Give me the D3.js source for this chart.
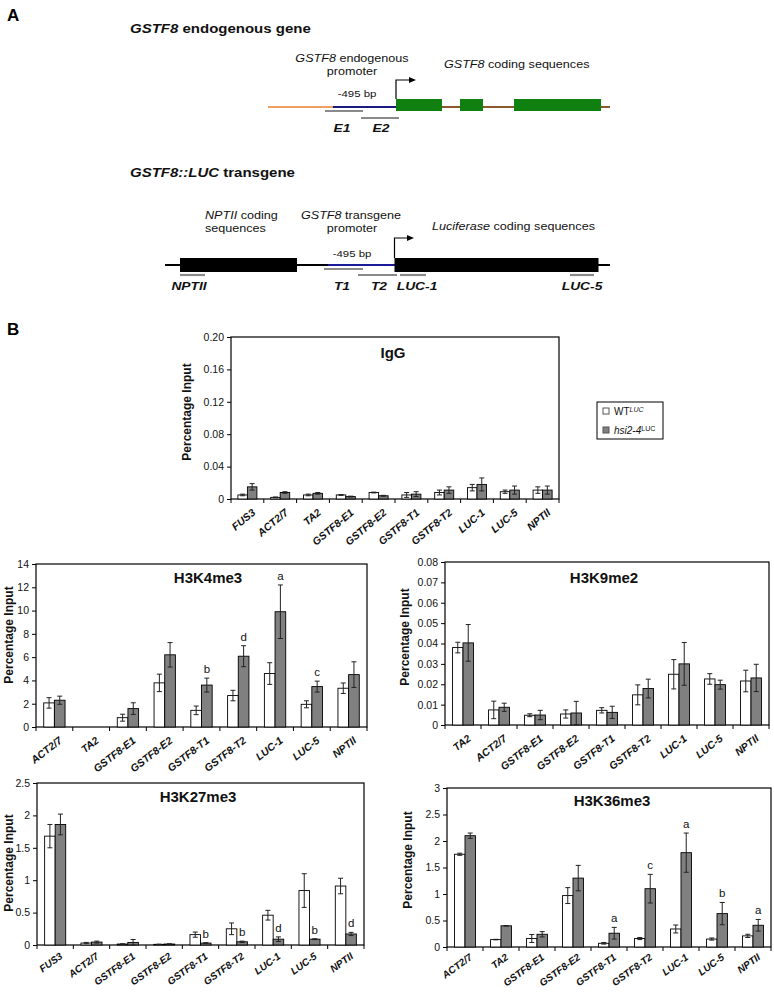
<!DOCTYPE html>
<html><head><meta charset="utf-8">
<script src="https://cdn.jsdelivr.net/npm/d3@7"></script>
<style>
body{margin:0;background:#fff}
svg{display:block}
text{font-family:"Liberation Sans",Arial,Helvetica,sans-serif}
</style>
</head><body>
<svg id="fig" width="774" height="992"></svg>
<script>
// ---------------- DATA ----------------
const igCats = ["FUS3","ACT2/7","TA2","GSTF8-E1","GSTF8-E2","GSTF8-T1","GSTF8-T2","LUC-1","LUC-5","NPTII"];
const igWT     = [0.005,0.002,0.005,0.005,0.008,0.005,0.008,0.014,0.009,0.011];
const igWTErr  = [0.001,0.0005,0.001,0.0005,0.0005,0.003,0.003,0.004,0.002,0.004];
const igHsi    = [0.015,0.008,0.007,0.003,0.004,0.006,0.011,0.018,0.011,0.011];
const igHsiErr = [0.004,0.001,0.001,0.0005,0.0005,0.003,0.004,0.008,0.005,0.005];
const igLetters = ["","","","","","","","","",""];
const igTicks = [0,0.04,0.08,0.12,0.16,0.20];

const k4Cats = ["ACT2/7","TA2","GSTF8-E1","GSTF8-E2","GSTF8-T1","GSTF8-T2","LUC-1","LUC-5","NPTII"];
const k4WT     = [2.07,null,0.8,3.79,1.43,2.7,4.59,1.95,3.33];
const k4WTErr  = [0.45,null,0.3,0.75,0.37,0.45,0.93,0.3,0.45];
const k4Hsi    = [2.3,null,1.58,6.2,3.6,6.08,9.9,3.47,4.5];
const k4HsiErr = [0.35,null,0.5,1.05,0.6,0.9,2.3,0.47,1.1];
const k4Letters = ["","","","","b","d","a","c",""];
const k4Ticks = [0,2,4,6,8,10,12,14];

const k9Cats = ["TA2","ACT2/7","GSTF8-E1","GSTF8-E2","GSTF8-T1","GSTF8-T2","LUC-1","LUC-5","NPTII"];
const k9WT     = [0.038,0.0074,0.0048,0.0054,0.0072,0.0148,0.0249,0.0226,0.0216];
const k9WTErr  = [0.0026,0.0043,0.0007,0.002,0.0013,0.0049,0.0072,0.0026,0.0053];
const k9Hsi    = [0.0403,0.0087,0.0049,0.0059,0.0062,0.0179,0.030,0.0198,0.0231];
const k9HsiErr = [0.009,0.002,0.0023,0.0057,0.003,0.0046,0.0105,0.0022,0.0067];
const k9Letters = ["","","","","","","","",""];
const k9Ticks = [0,0.01,0.02,0.03,0.04,0.05,0.06,0.07,0.08];

const k27Cats = ["FUS3","ACT2/7","GSTF8-E1","GSTF8-E2","GSTF8-T1","GSTF8-T2","LUC-1","LUC-5","NPTII"];
const k27WT     = [1.68,0.03,0.015,0.01,0.16,0.25,0.46,0.84,0.91];
const k27WTErr  = [0.18,0.01,0.003,0.003,0.04,0.09,0.075,0.26,0.12];
const k27Hsi    = [1.86,0.045,0.04,0.015,0.03,0.05,0.09,0.09,0.17];
const k27HsiErr = [0.16,0.015,0.045,0.003,0.005,0.01,0.035,0.007,0.025];
const k27Letters = ["","","","","b","b","d","b","d"];
const k27Ticks = [0,0.5,1,1.5,2,2.5];

const k36Cats = ["ACT2/7","TA2","GSTF8-E1","GSTF8-E2","GSTF8-T1","GSTF8-T2","LUC-1","LUC-5","NPTII"];
const k36WT     = [1.75,0.14,0.16,0.97,0.07,0.16,0.34,0.15,0.21];
const k36WTErr  = [0.02,0.005,0.075,0.15,0.015,0.02,0.075,0.02,0.03];
const k36Hsi    = [2.1,0.4,0.24,1.3,0.26,1.1,1.78,0.63,0.41];
const k36HsiErr = [0.05,0.005,0.05,0.24,0.11,0.27,0.37,0.21,0.11];
const k36Letters = ["","","","","a","c","a","b","a"];
const k36Ticks = [0,0.5,1,1.5,2,2.5,3];

// ---------------- DRAWING ----------------
const svg = d3.select("#fig");
svg.append("rect").attr("width",774).attr("height",992).attr("fill","#fff");

const GRAY = "#808080";
const SX = 1.2; // horizontally stretched text in the diagrams

function ctext(x, y, parts, opts) {
  const o = Object.assign({size:10.5, weight:"normal", anchor:"start"}, opts||{});
  const t = svg.append("text")
    .attr("transform", `translate(${x},${y}) scale(${SX},1)`)
    .attr("font-size", o.size).attr("font-weight", o.weight)
    .attr("text-anchor", o.anchor).attr("fill","#111");
  parts.forEach(p => {
    t.append("tspan").text(p[0]).attr("font-style", p[1] ? "italic" : "normal");
  });
  return t;
}
function hline(x1, x2, y, color, w) {
  svg.append("line").attr("x1",x1).attr("x2",x2).attr("y1",y).attr("y2",y)
    .attr("stroke",color).attr("stroke-width",w);
}
function promoterArrow(x, y0, y1, x2) {
  svg.append("path").attr("d",`M${x},${y0}V${y1}H${x2-5}`).attr("fill","none")
    .attr("stroke","#000").attr("stroke-width",1.2);
  svg.append("path").attr("d",`M${x2},${y1}L${x2-7},${y1-3}L${x2-7},${y1+3}Z`).attr("fill","#000");
}

// Panel letters
svg.append("text").attr("x",7).attr("y",21).attr("font-size",17).attr("font-weight","bold").text("A");
svg.append("text").attr("x",7).attr("y",335).attr("font-size",17).attr("font-weight","bold").text("B");

// --- endogenous gene ---
ctext(130, 33, [["GSTF8",true],[" endogenous gene",false]], {size:12.5, weight:"bold"});
ctext(352, 62, [["GSTF8",true],[" endogenous",false]], {anchor:"middle"});
ctext(352, 75, [["promoter",false]], {anchor:"middle"});
ctext(444, 68, [["GSTF8",true],[" coding sequences",false]]);
ctext(357, 97, [["-495 bp",false]], {anchor:"middle", size:9.5});
hline(268, 333, 107, "#f0a060", 2);
hline(333, 396, 107, "#1a1a80", 2);
hline(396, 610, 107, "#8b5a2b", 2);
[[396,442],[460,483],[514,601]].forEach(b => {
  svg.append("rect").attr("x",b[0]).attr("y",99).attr("width",b[1]-b[0]).attr("height",12).attr("fill","#108010");
});
promoterArrow(396, 99, 80, 416);
hline(325, 363, 111, "#8a8a8a", 2.2);
hline(361, 399, 118, "#8a8a8a", 2.2);
ctext(342, 132, [["E1",true]], {anchor:"middle", size:11.5, weight:"bold"});
ctext(381, 132, [["E2",true]], {anchor:"middle", size:11.5, weight:"bold"});

// --- transgene ---
ctext(130, 177, [["GSTF8::LUC",true],[" transgene",false]], {size:12.5, weight:"bold"});
ctext(205, 219, [["NPTII",true],[" coding",false]]);
ctext(205, 232, [["sequences",false]]);
ctext(351, 219, [["GSTF8",true],[" transgene",false]], {anchor:"middle"});
ctext(352, 232, [["promoter",false]], {anchor:"middle"});
ctext(432, 230, [["Luciferase",true],[" coding sequences",false]]);
ctext(352, 257, [["-495 bp",false]], {anchor:"middle", size:9.5});
hline(165, 610, 265, "#000", 2);
hline(328, 395, 265, "#1a1a9a", 2);
svg.append("rect").attr("x",180).attr("y",258).attr("width",117).attr("height",14).attr("fill","#000");
svg.append("rect").attr("x",394.5).attr("y",258).attr("width",204).attr("height",14).attr("fill","#000");
promoterArrow(394.5, 258, 238, 414);
hline(180, 205, 275, "#8a8a8a", 2.2);
hline(324, 363, 269, "#8a8a8a", 2.2);
hline(358, 397, 275, "#8a8a8a", 2.2);
hline(400, 426, 275, "#8a8a8a", 2.2);
hline(570, 594, 275, "#8a8a8a", 2.2);
ctext(189, 290, [["NPTII",true]], {anchor:"middle", size:11.5, weight:"bold"});
ctext(342, 290, [["T1",true]], {anchor:"middle", size:11.5, weight:"bold"});
ctext(379, 290, [["T2",true]], {anchor:"middle", size:11.5, weight:"bold"});
ctext(417, 290, [["LUC-1",true]], {anchor:"middle", size:11.5, weight:"bold"});
ctext(582, 290, [["LUC-5",true]], {anchor:"middle", size:11.5, weight:"bold"});

// --- bar chart ---
function barChart(c) {
  const g = svg.append("g");
  const x = d3.scaleBand().domain(c.cats).range([c.L, c.R]);
  const y = d3.scaleLinear().domain([0, c.ticks[c.ticks.length-1]]).range([c.B, c.T]);
  const bw = x.bandwidth() * 0.29;
  const lblSize = c.lblSize || 10.5, lblOff = c.lblOff || 9;

  g.append("rect").attr("x",c.L).attr("y",c.T).attr("width",c.R-c.L).attr("height",c.B-c.T)
    .attr("fill","none").attr("stroke","#000").attr("stroke-width",1.2);

  const ya = g.append("g").attr("transform",`translate(${c.L},0)`)
    .call(d3.axisLeft(y).tickValues(c.ticks).tickSize(4).tickPadding(3).tickFormat(c.fmt));
  ya.select(".domain").remove();
  ya.selectAll("text").attr("font-size",10.5).attr("fill","#111")
    .style("font-family",'"Liberation Sans",Arial,sans-serif');
  ya.selectAll("line").attr("stroke","#000");

  d3.range(c.cats.length+1).forEach(i => {
    const xx = c.L + i * x.step();
    g.append("line").attr("x1",xx).attr("x2",xx).attr("y1",c.B).attr("y2",c.B+4).attr("stroke","#000");
  });
  c.cats.forEach(cat => {
    const cx = x(cat) + x.bandwidth()/2;
    g.append("text").attr("transform",`translate(${cx+4},${c.B+lblOff}) rotate(${c.rot})`)
      .attr("text-anchor","end").attr("dy","0.7em")
      .attr("font-size",lblSize).attr("font-weight","bold").attr("font-style","italic").attr("fill","#111")
      .text(cat);
  });

  const series = [
    {v:c.wt, e:c.wtErr, fill:"#fff", off:-1},
    {v:c.hsi, e:c.hsiErr, fill:GRAY, off:0}
  ];
  series.forEach(s => {
    c.cats.forEach((cat,i) => {
      const v = s.v[i];
      if (v === null) return;
      const cx = x(cat) + x.bandwidth()/2;
      const bx = cx + s.off*bw;
      g.append("rect").attr("x",bx).attr("y",y(v)).attr("width",bw).attr("height",y(0)-y(v))
        .attr("fill",s.fill).attr("stroke","#000").attr("stroke-width",0.9);
      const e = s.e[i];
      const mx = bx + bw/2;
      const lo = Math.max(0, v - e), hi = v + e;
      g.append("line").attr("x1",mx).attr("x2",mx).attr("y1",y(lo)).attr("y2",y(hi))
        .attr("stroke","#222").attr("stroke-width",1);
      [lo,hi].forEach(val => {
        g.append("line").attr("x1",mx-2.5).attr("x2",mx+2.5).attr("y1",y(val)).attr("y2",y(val))
          .attr("stroke","#222").attr("stroke-width",1);
      });
    });
  });
  c.cats.forEach((cat,i) => {
    const L = c.letters[i];
    if (!L) return;
    const cx = x(cat) + x.bandwidth()/2 + bw/2;
    g.append("text").attr("x",cx).attr("y",y(c.hsi[i]+c.hsiErr[i]) - 5)
      .attr("text-anchor","middle").attr("font-size",11.5).attr("fill","#111").text(L);
  });

  g.append("text").attr("x",c.titleX).attr("y",c.titleY).attr("text-anchor","middle")
    .attr("font-size",15).attr("font-weight","bold").attr("fill","#111").text(c.title);
  g.append("text").attr("transform",`translate(${c.ylabX},${c.ylabY}) rotate(-90)`)
    .attr("text-anchor","middle").attr("dy","0.35em")
    .attr("font-size",12).attr("font-weight","bold").attr("fill","#111").text("Percentage Input");
}

const fmt2 = d => d === 0 ? "0" : d3.format(".2f")(d);
const fmtG = d => d === 0 ? "0" : String(d);

barChart({cats:igCats, wt:igWT, wtErr:igWTErr, hsi:igHsi, hsiErr:igHsiErr, letters:igLetters,
  ticks:igTicks, fmt:fmt2, L:231, R:559, T:337, B:499, rot:-40,
  title:"IgG", titleX:393, titleY:358, ylabX:187, ylabY:412});
barChart({cats:k4Cats, wt:k4WT, wtErr:k4WTErr, hsi:k4Hsi, hsiErr:k4HsiErr, letters:k4Letters,
  ticks:k4Ticks, fmt:fmtG, L:36, R:367, T:564, B:727, rot:-38,
  title:"H3K4me3", titleX:208, titleY:583, ylabX:9, ylabY:635});
barChart({cats:k9Cats, wt:k9WT, wtErr:k9WTErr, hsi:k9Hsi, hsiErr:k9HsiErr, letters:k9Letters,
  ticks:k9Ticks, fmt:fmt2, L:445, R:769, T:562, B:725, rot:-38,
  title:"H3K9me2", titleX:604, titleY:583, ylabX:405, ylabY:637});
barChart({cats:k27Cats, wt:k27WT, wtErr:k27WTErr, hsi:k27Hsi, hsiErr:k27HsiErr, letters:k27Letters,
  ticks:k27Ticks, fmt:fmtG, L:37, R:364, T:783, B:945, rot:-36, lblSize:10, lblOff:7,
  title:"H3K27me3", titleX:198, titleY:802, ylabX:9, ylabY:863});
barChart({cats:k36Cats, wt:k36WT, wtErr:k36WTErr, hsi:k36Hsi, hsiErr:k36HsiErr, letters:k36Letters,
  ticks:k36Ticks, fmt:fmtG, L:447, R:771, T:788, B:947, rot:-36, lblSize:10, lblOff:6,
  title:"H3K36me3", titleX:612, titleY:806, ylabX:408, ylabY:860});

// legend
const lg = svg.append("g");
lg.append("rect").attr("x",597).attr("y",402).attr("width",66).attr("height",37)
  .attr("fill","#fff").attr("stroke","#000").attr("stroke-width",1);
lg.append("rect").attr("x",603).attr("y",408).attr("width",6).attr("height",6).attr("fill","#fff").attr("stroke","#555");
lg.append("rect").attr("x",603).attr("y",427).attr("width",6).attr("height",6).attr("fill",GRAY).attr("stroke","#555");
const l1 = lg.append("text").attr("x",614).attr("y",414.5).attr("font-size",10).attr("fill","#111");
l1.append("tspan").text("WT");
l1.append("tspan").text("LUC").attr("font-size",7).attr("font-style","italic").attr("dy",-3);
const l2 = lg.append("text").attr("x",614).attr("y",433.5).attr("font-size",10).attr("fill","#111");
l2.append("tspan").text("hsi2-4").attr("font-style","italic");
l2.append("tspan").text("LUC").attr("font-size",7).attr("dy",-3);
</script>
</body></html>
